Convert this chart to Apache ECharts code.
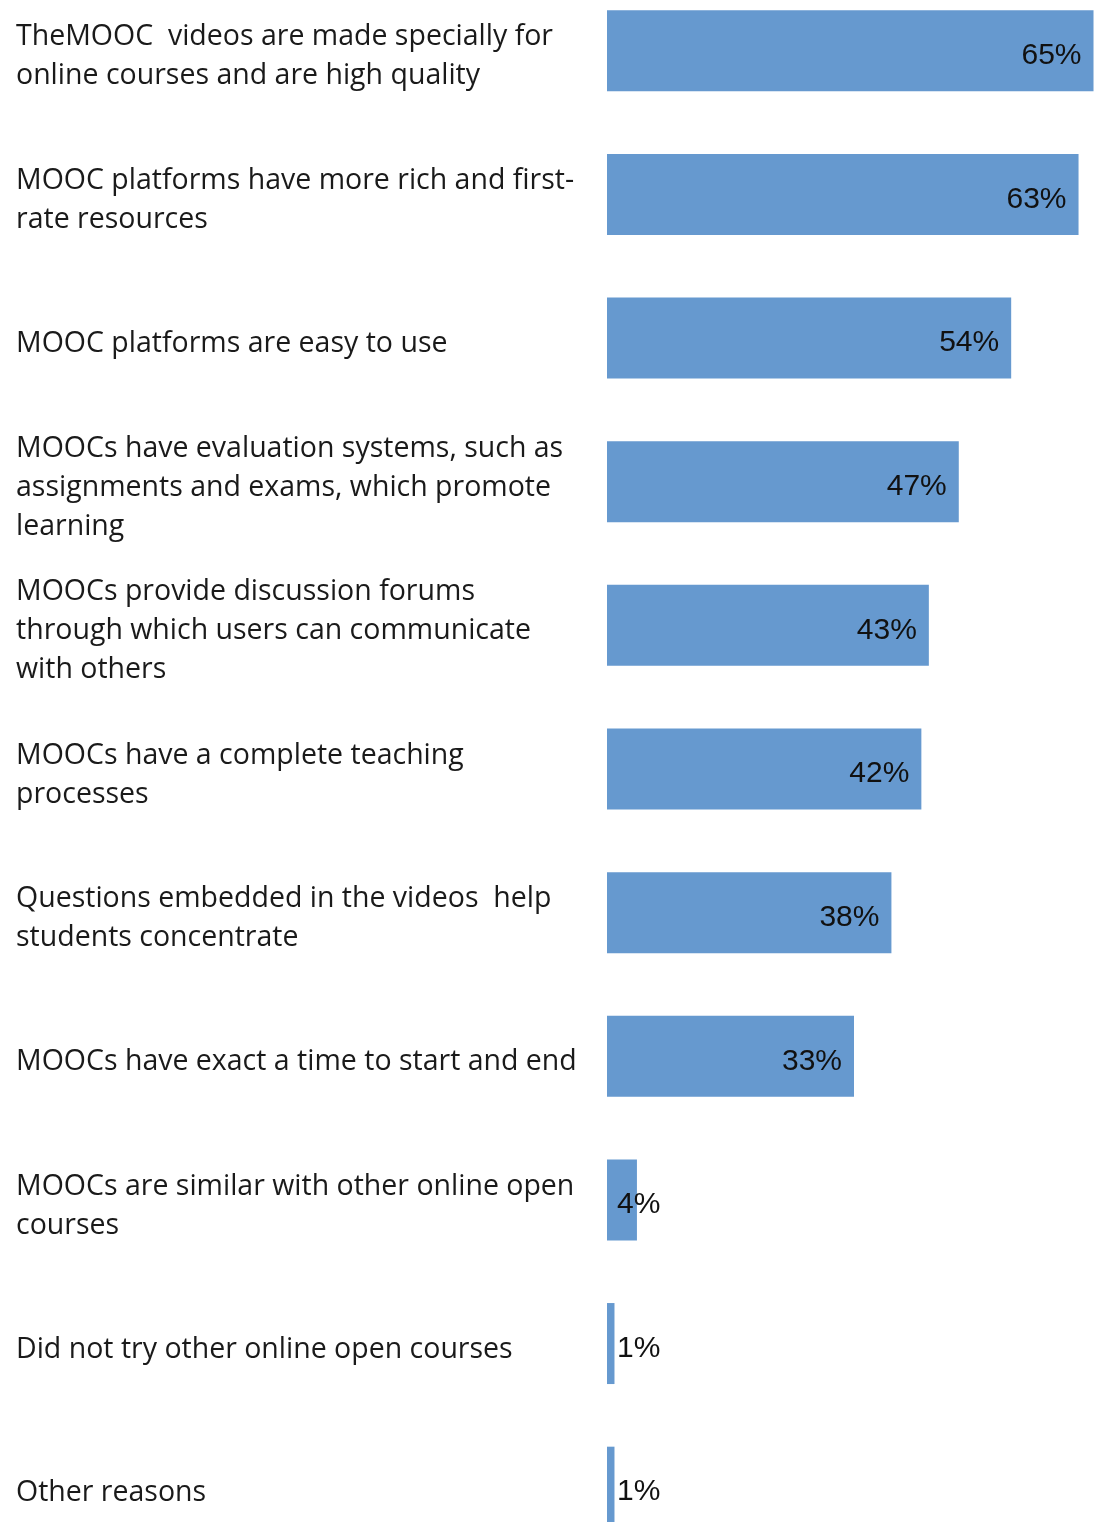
<!DOCTYPE html>
<html>
<head>
<meta charset="utf-8">
<style>
  html, body { margin: 0; padding: 0; background: #ffffff; overflow: hidden; }
  #wrap { width: 1107px; height: 1522px; overflow: hidden; position: relative; }
  /* the first and last category bands run slightly past the page edges */
  #chart { width: 1107px; height: 1580px; position: absolute; left: 0; top: -21px; }
</style>
<script src="https://cdn.jsdelivr.net/npm/echarts@6/dist/echarts.min.js"></script>
</head>
<body>
<div id="wrap"><div id="chart"></div></div>
<script>
// Reasons respondents preferred MOOCs (share of respondents, %)
const categories = [
  'TheMOOC  videos are made specially for\nonline courses and are high quality',
  'MOOC platforms have more rich and first-\nrate resources',
  'MOOC platforms are easy to use',
  'MOOCs have evaluation systems, such as\nassignments and exams, which promote\nlearning',
  'MOOCs provide discussion forums\nthrough which users can communicate\nwith others',
  'MOOCs have a complete teaching\nprocesses',
  'Questions embedded in the videos  help\nstudents concentrate',
  'MOOCs have exact a time to start and end',
  'MOOCs are similar with other online open\ncourses',
  'Did not try other online open courses',
  'Other reasons'
];
const values = [65, 63, 54, 47, 43, 42, 38, 33, 4, 1, 1];

const chart = echarts.init(document.getElementById('chart'));

// Short bars get their percentage placed from the bar's start instead of its end
const barData = values.map(v => v < 5
  ? { value: v, label: { position: 'insideLeft', distance: 10 } }
  : { value: v });

// A thin spacer line on top nudges each text block slightly below the band centre
const labelFormatter = text => '{pad| }\n' + text.split('\n')
  .map(line => '{line|' + line + '}')
  .join('\n');

chart.setOption({
  animation: false,
  backgroundColor: '#ffffff',
  grid: { left: 607, right: 6, top: 0, bottom: 0 },
  xAxis: {
    type: 'value',
    min: 0,
    max: 66,
    show: false
  },
  yAxis: {
    type: 'category',
    inverse: true,
    data: categories,
    axisLine: { show: false },
    axisTick: { show: false },
    splitLine: { show: false },
    axisLabel: {
      align: 'left',
      margin: 591,
      formatter: labelFormatter,
      rich: {
        pad: { fontSize: 1, lineHeight: 12 },
        line: {
          fontFamily: 'Open Sans',
          fontSize: 28.5,
          lineHeight: 39,
          color: '#1a1a1a'
        }
      }
    }
  },
  series: [{
    type: 'bar',
    data: barData,
    barWidth: 81,
    itemStyle: { color: '#6699cf' },
    label: {
      show: true,
      position: 'insideRight',
      distance: 12,
      offset: [0, 5],
      formatter: '{c}%',
      fontFamily: 'Liberation Sans',
      fontSize: 30,
      color: '#111111'
    }
  }]
});
</script>
</body>
</html>
